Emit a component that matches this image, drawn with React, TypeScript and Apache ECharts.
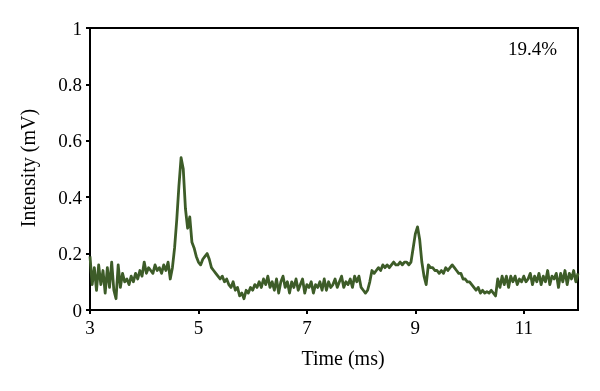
import React, { useEffect, useRef } from "react";
import * as echarts from "echarts";

const TIME_START = 3;
const TIME_STEP = 0.04;
const intensity: number[] = [
  0.19, 0.09, 0.15, 0.07, 0.16, 0.09, 0.14, 0.06, 0.15, 0.08,
  0.17, 0.07, 0.04, 0.16, 0.08, 0.13, 0.10, 0.11, 0.09, 0.12,
  0.10, 0.13, 0.11, 0.14, 0.12, 0.17, 0.13, 0.15, 0.14, 0.13,
  0.16, 0.14, 0.15, 0.13, 0.16, 0.14, 0.17, 0.11, 0.15, 0.22,
  0.32, 0.44, 0.54, 0.50, 0.36, 0.29, 0.33, 0.24, 0.22, 0.19,
  0.17, 0.16, 0.18, 0.19, 0.20, 0.18, 0.15, 0.14, 0.13, 0.12,
  0.11, 0.12, 0.10, 0.11, 0.09, 0.08, 0.10, 0.07, 0.08, 0.05,
  0.06, 0.04, 0.07, 0.06, 0.08, 0.07, 0.09, 0.08, 0.10, 0.08,
  0.11, 0.09, 0.12, 0.08, 0.10, 0.07, 0.11, 0.06, 0.10, 0.12,
  0.08, 0.10, 0.06, 0.10, 0.08, 0.11, 0.07, 0.09, 0.11, 0.06,
  0.09, 0.08, 0.10, 0.06, 0.09, 0.08, 0.10, 0.07, 0.11, 0.07,
  0.10, 0.08, 0.09, 0.11, 0.08, 0.10, 0.12, 0.08, 0.10, 0.09,
  0.11, 0.08, 0.12, 0.10, 0.12, 0.08, 0.07, 0.06, 0.07, 0.10,
  0.14, 0.13, 0.14, 0.15, 0.14, 0.16, 0.15, 0.16, 0.15, 0.16,
  0.17, 0.16, 0.16, 0.17, 0.16, 0.17, 0.17, 0.16, 0.17, 0.22,
  0.27, 0.295, 0.25, 0.17, 0.12, 0.09, 0.16, 0.15, 0.15, 0.14,
  0.14, 0.13, 0.14, 0.13, 0.15, 0.14, 0.15, 0.16, 0.15, 0.14,
  0.13, 0.13, 0.11, 0.11, 0.10, 0.10, 0.09, 0.08, 0.07, 0.08,
  0.06, 0.07, 0.06, 0.065, 0.06, 0.07, 0.06, 0.05, 0.11, 0.08,
  0.12, 0.09, 0.12, 0.08, 0.12, 0.10, 0.12, 0.09, 0.11, 0.10,
  0.12, 0.10, 0.11, 0.13, 0.09, 0.12, 0.10, 0.13, 0.09, 0.12,
  0.10, 0.14, 0.09, 0.12, 0.11, 0.13, 0.08, 0.13, 0.10, 0.14,
  0.09, 0.13, 0.11, 0.14, 0.10, 0.13,
];
const xTicks = [3, 5, 7, 9, 11];
const yTicks = [0, 0.2, 0.4, 0.6, 0.8, 1];
const annotation = "19.4%";
const xName = "Time (ms)";
const yName = "Intensity (mV)";

const FONT = "Liberation Serif";

export default function App() {
  const ref = useRef<HTMLDivElement>(null);
  useEffect(() => {
    if (!ref.current) return;
    const chart = echarts.init(ref.current, undefined, { renderer: "svg" });
    const data = intensity.map((v, i) => [
      Math.round((TIME_START + i * TIME_STEP) * 1000) / 1000,
      v,
    ]);
    chart.setOption({
      animation: false,
      textStyle: { fontFamily: FONT },
      grid: {
        left: 90,
        top: 28,
        right: 22,
        bottom: 81,
        show: true,
        borderColor: "#000",
        borderWidth: 2,
      },
      xAxis: {
        type: "value",
        min: 3,
        max: 12,
        interval: 1,
        axisLine: { show: true, lineStyle: { color: "#000", width: 2 } },
        axisTick: {
          show: true,
          length: 4,
          lineStyle: { color: "#000", width: 2 },
          customValues: xTicks,
        },
        axisLabel: {
          color: "#000",
          fontFamily: FONT,
          fontSize: 19,
          margin: 8,
          customValues: xTicks,
        },
        splitLine: { show: false },
      },
      yAxis: {
        type: "value",
        min: 0,
        max: 1,
        interval: 0.2,
        axisLine: { show: true, lineStyle: { color: "#000", width: 2 } },
        axisTick: {
          show: true,
          length: 4,
          lineStyle: { color: "#000", width: 2 },
        },
        axisLabel: {
          color: "#000",
          fontFamily: FONT,
          fontSize: 19,
          margin: 8,
          formatter: (v: number) => {
            const f = yTicks.find((t) => Math.abs(t - v) < 1e-6);
            return f === undefined ? "" : String(f);
          },
        },
        splitLine: { show: false },
      },
      graphic: [
        {
          type: "text",
          x: 343,
          y: 358,
          style: {
            text: xName,
            fontFamily: FONT,
            fontSize: 20,
            fill: "#000",
            textAlign: "center",
            textVerticalAlign: "middle",
          },
        },
        {
          type: "text",
          x: 28,
          y: 168,
          rotation: Math.PI / 2,
          style: {
            text: yName,
            fontFamily: FONT,
            fontSize: 20,
            fill: "#000",
            textAlign: "center",
            textVerticalAlign: "middle",
          },
        },
        {
          type: "text",
          x: 557,
          y: 48,
          style: {
            text: annotation,
            fontFamily: FONT,
            fontSize: 19,
            fill: "#000",
            textAlign: "right",
            textVerticalAlign: "middle",
          },
        },
      ],
      series: [
        {
          type: "line",
          data,
          showSymbol: false,
          lineStyle: { color: "#3d5c28", width: 2.8, join: "round" },
          clip: true,
        },
      ],
    });
    return () => chart.dispose();
  }, []);
  return (
    <div
      ref={ref}
      style={{ position: "fixed", left: 0, top: 0, width: 600, height: 391 }}
    />
  );
}
